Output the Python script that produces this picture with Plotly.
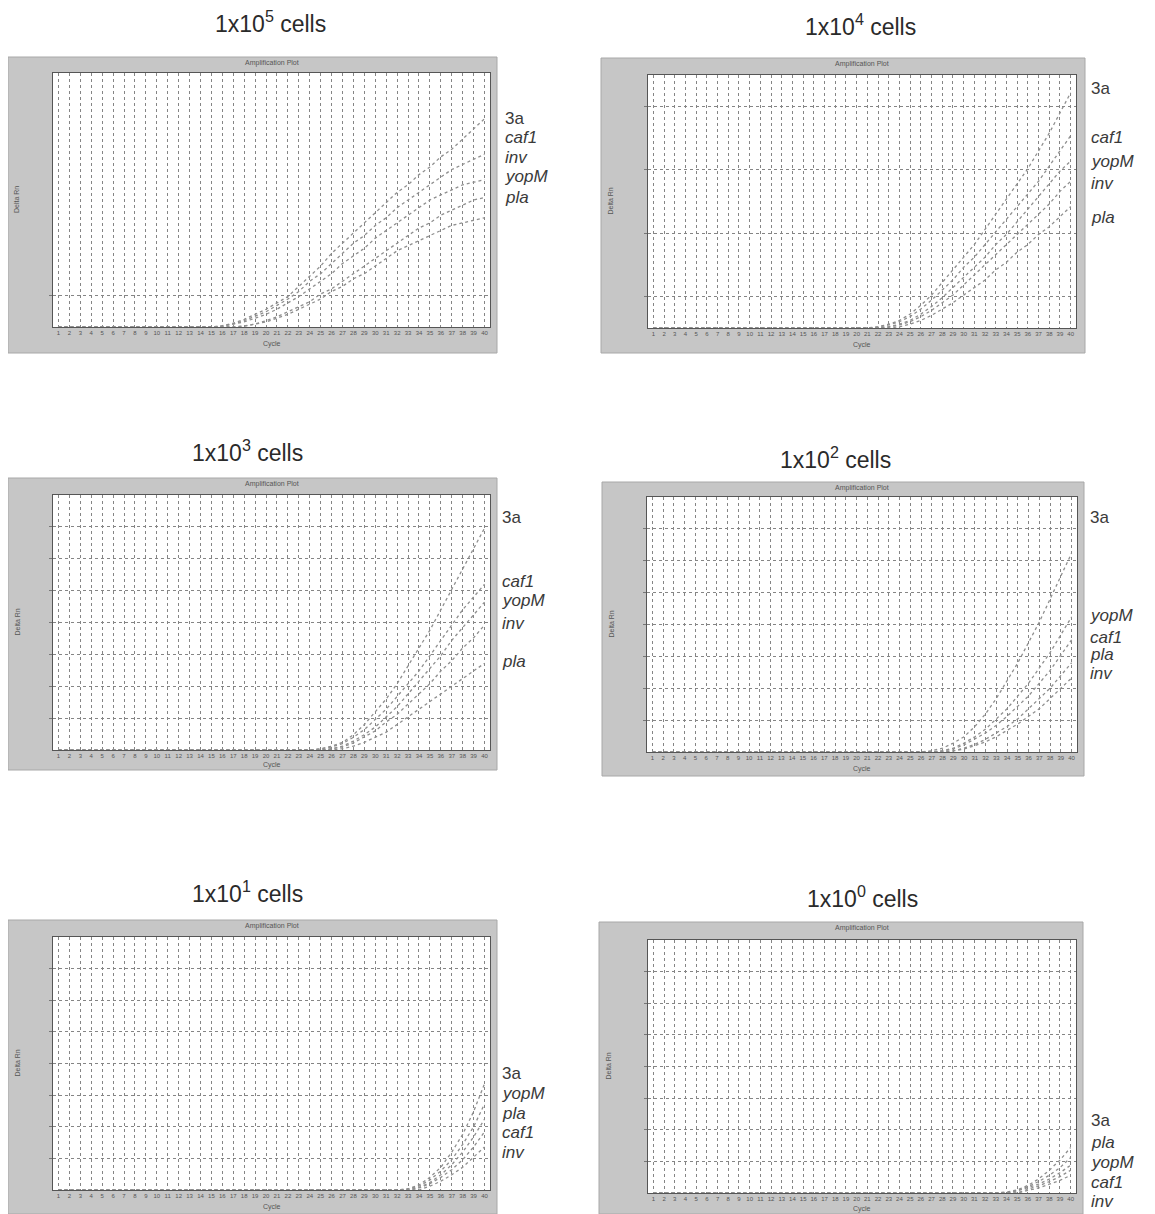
import plotly.graph_objects as go

# page pixels of the reference; the page body has an 8px margin, so the figure is offset by it
W, H = 1155, 1214
OFF = 8
FW, FH = W - OFF, H - OFF

CYCLES = [1, 2, 3, 4, 5, 6, 7, 8, 9, 10,
          11, 12, 13, 14, 15, 16, 17, 18, 19, 20,
          21, 22, 23, 24, 25, 26, 27, 28, 29, 30,
          31, 32, 33, 34, 35, 36, 37, 38, 39, 40]

TITLES = ["1x10<sup>5</sup> cells", "1x10<sup>4</sup> cells", "1x10<sup>3</sup> cells",
          "1x10<sup>2</sup> cells", "1x10<sup>1</sup> cells", "1x10<sup>0</sup> cells"]

# ---- 1x10^5 cells ----
P1_GENES = ["3a", "caf1", "inv", "yopM", "pla"]
P1_3A = [0, 0, 0, 0, 0, 0, 0, 0, 0, 0,
         0, 0, 0, 0, 0, 0.005, 0.015, 0.03, 0.05, 0.07,
         0.095, 0.12, 0.16, 0.20, 0.24, 0.29, 0.33, 0.37, 0.41, 0.45,
         0.49, 0.53, 0.56, 0.60, 0.63, 0.67, 0.70, 0.74, 0.78, 0.82]
P1_CAF1 = [0, 0, 0, 0, 0, 0, 0, 0, 0, 0,
           0, 0, 0, 0, 0, 0.004, 0.012, 0.025, 0.042, 0.06,
           0.085, 0.11, 0.14, 0.18, 0.21, 0.25, 0.29, 0.33, 0.36, 0.40,
           0.43, 0.47, 0.50, 0.53, 0.56, 0.59, 0.62, 0.64, 0.66, 0.68]
P1_INV = [0, 0, 0, 0, 0, 0, 0, 0, 0, 0,
          0, 0, 0, 0, 0, 0.003, 0.01, 0.02, 0.035, 0.05,
          0.07, 0.095, 0.12, 0.15, 0.18, 0.21, 0.25, 0.28, 0.31, 0.35,
          0.38, 0.41, 0.44, 0.47, 0.50, 0.52, 0.54, 0.56, 0.57, 0.58]
P1_YOPM = [0, 0, 0, 0, 0, 0, 0, 0, 0, 0,
           0, 0, 0, 0, 0, 0, 0, 0.004, 0.012, 0.025,
           0.04, 0.06, 0.08, 0.10, 0.13, 0.15, 0.18, 0.21, 0.24, 0.27,
           0.30, 0.33, 0.36, 0.39, 0.41, 0.44, 0.46, 0.48, 0.50, 0.51]
P1_PLA = [0, 0, 0, 0, 0, 0, 0, 0, 0, 0,
          0, 0, 0, 0, 0, 0, 0, 0.003, 0.01, 0.02,
          0.035, 0.05, 0.07, 0.09, 0.11, 0.14, 0.16, 0.19, 0.21, 0.24,
          0.27, 0.30, 0.32, 0.34, 0.36, 0.38, 0.40, 0.41, 0.42, 0.43]

# ---- 1x10^4 cells ----
P2_GENES = ["3a", "caf1", "yopM", "inv", "pla"]
P2_3A = [0, 0, 0, 0, 0, 0, 0, 0, 0, 0,
         0, 0, 0, 0, 0, 0, 0, 0, 0, 0,
         0, 0.005, 0.015, 0.03, 0.055, 0.09, 0.13, 0.18, 0.23, 0.28,
         0.33, 0.39, 0.45, 0.51, 0.57, 0.63, 0.70, 0.77, 0.85, 0.93]
P2_CAF1 = [0, 0, 0, 0, 0, 0, 0, 0, 0, 0,
           0, 0, 0, 0, 0, 0, 0, 0, 0, 0,
           0, 0.004, 0.012, 0.025, 0.045, 0.075, 0.11, 0.15, 0.19, 0.24,
           0.28, 0.33, 0.38, 0.43, 0.48, 0.53, 0.58, 0.64, 0.70, 0.76]
P2_YOPM = [0, 0, 0, 0, 0, 0, 0, 0, 0, 0,
           0, 0, 0, 0, 0, 0, 0, 0, 0, 0,
           0, 0, 0.005, 0.015, 0.03, 0.055, 0.085, 0.12, 0.16, 0.20,
           0.24, 0.28, 0.33, 0.37, 0.42, 0.47, 0.52, 0.57, 0.62, 0.66]
P2_INV = [0, 0, 0, 0, 0, 0, 0, 0, 0, 0,
          0, 0, 0, 0, 0, 0, 0, 0, 0, 0,
          0, 0, 0.004, 0.012, 0.025, 0.045, 0.07, 0.10, 0.13, 0.17,
          0.21, 0.25, 0.29, 0.33, 0.37, 0.41, 0.45, 0.49, 0.54, 0.58]
P2_PLA = [0, 0, 0, 0, 0, 0, 0, 0, 0, 0,
          0, 0, 0, 0, 0, 0, 0, 0, 0, 0,
          0, 0, 0, 0.005, 0.015, 0.03, 0.05, 0.075, 0.10, 0.13,
          0.16, 0.19, 0.23, 0.26, 0.30, 0.33, 0.37, 0.40, 0.44, 0.48]

# ---- 1x10^3 cells ----
P3_GENES = ["3a", "caf1", "yopM", "inv", "pla"]
P3_3A = [0, 0, 0, 0, 0, 0, 0, 0, 0, 0,
         0, 0, 0, 0, 0, 0, 0, 0, 0, 0,
         0, 0, 0, 0, 0.005, 0.015, 0.03, 0.06, 0.10, 0.15,
         0.20, 0.26, 0.33, 0.40, 0.47, 0.55, 0.63, 0.71, 0.79, 0.87]
P3_CAF1 = [0, 0, 0, 0, 0, 0, 0, 0, 0, 0,
           0, 0, 0, 0, 0, 0, 0, 0, 0, 0,
           0, 0, 0, 0, 0.004, 0.012, 0.025, 0.05, 0.08, 0.12,
           0.16, 0.21, 0.26, 0.31, 0.37, 0.43, 0.49, 0.55, 0.60, 0.65]
P3_YOPM = [0, 0, 0, 0, 0, 0, 0, 0, 0, 0,
           0, 0, 0, 0, 0, 0, 0, 0, 0, 0,
           0, 0, 0, 0, 0, 0.005, 0.015, 0.035, 0.06, 0.09,
           0.13, 0.17, 0.22, 0.27, 0.32, 0.37, 0.43, 0.48, 0.53, 0.58]
P3_INV = [0, 0, 0, 0, 0, 0, 0, 0, 0, 0,
          0, 0, 0, 0, 0, 0, 0, 0, 0, 0,
          0, 0, 0, 0, 0, 0.004, 0.012, 0.028, 0.05, 0.075,
          0.11, 0.14, 0.18, 0.22, 0.26, 0.31, 0.35, 0.40, 0.44, 0.49]
P3_PLA = [0, 0, 0, 0, 0, 0, 0, 0, 0, 0,
          0, 0, 0, 0, 0, 0, 0, 0, 0, 0,
          0, 0, 0, 0, 0, 0, 0.005, 0.015, 0.03, 0.05,
          0.07, 0.10, 0.13, 0.16, 0.19, 0.22, 0.25, 0.28, 0.31, 0.34]

# ---- 1x10^2 cells ----
P4_GENES = ["3a", "yopM", "caf1", "pla", "inv"]
P4_3A = [0, 0, 0, 0, 0, 0, 0, 0, 0, 0,
         0, 0, 0, 0, 0, 0, 0, 0, 0, 0,
         0, 0, 0, 0, 0, 0, 0.005, 0.015, 0.035, 0.06,
         0.10, 0.15, 0.21, 0.28, 0.35, 0.43, 0.51, 0.60, 0.69, 0.78]
P4_YOPM = [0, 0, 0, 0, 0, 0, 0, 0, 0, 0,
           0, 0, 0, 0, 0, 0, 0, 0, 0, 0,
           0, 0, 0, 0, 0, 0, 0, 0.005, 0.015, 0.035,
           0.06, 0.09, 0.13, 0.17, 0.22, 0.27, 0.33, 0.39, 0.46, 0.53]
P4_CAF1 = [0, 0, 0, 0, 0, 0, 0, 0, 0, 0,
           0, 0, 0, 0, 0, 0, 0, 0, 0, 0,
           0, 0, 0, 0, 0, 0, 0, 0.004, 0.012, 0.028,
           0.05, 0.075, 0.105, 0.14, 0.18, 0.22, 0.27, 0.32, 0.38, 0.44]
P4_PLA = [0, 0, 0, 0, 0, 0, 0, 0, 0, 0,
          0, 0, 0, 0, 0, 0, 0, 0, 0, 0,
          0, 0, 0, 0, 0, 0, 0, 0, 0.005, 0.015,
          0.03, 0.05, 0.075, 0.10, 0.13, 0.17, 0.21, 0.25, 0.30, 0.35]
P4_INV = [0, 0, 0, 0, 0, 0, 0, 0, 0, 0,
          0, 0, 0, 0, 0, 0, 0, 0, 0, 0,
          0, 0, 0, 0, 0, 0, 0, 0, 0.004, 0.012,
          0.025, 0.04, 0.06, 0.085, 0.11, 0.14, 0.17, 0.21, 0.25, 0.29]

# ---- 1x10^1 cells ----
P5_GENES = ["3a", "yopM", "pla", "caf1", "inv"]
P5_3A = [0, 0, 0, 0, 0, 0, 0, 0, 0, 0,
         0, 0, 0, 0, 0, 0, 0, 0, 0, 0,
         0, 0, 0, 0, 0, 0, 0, 0, 0, 0,
         0, 0, 0.005, 0.02, 0.05, 0.09, 0.15, 0.22, 0.31, 0.42]
P5_YOPM = [0, 0, 0, 0, 0, 0, 0, 0, 0, 0,
           0, 0, 0, 0, 0, 0, 0, 0, 0, 0,
           0, 0, 0, 0, 0, 0, 0, 0, 0, 0,
           0, 0, 0.004, 0.015, 0.04, 0.075, 0.12, 0.18, 0.25, 0.34]
P5_PLA = [0, 0, 0, 0, 0, 0, 0, 0, 0, 0,
          0, 0, 0, 0, 0, 0, 0, 0, 0, 0,
          0, 0, 0, 0, 0, 0, 0, 0, 0, 0,
          0, 0, 0, 0.01, 0.03, 0.06, 0.10, 0.15, 0.21, 0.28]
P5_CAF1 = [0, 0, 0, 0, 0, 0, 0, 0, 0, 0,
           0, 0, 0, 0, 0, 0, 0, 0, 0, 0,
           0, 0, 0, 0, 0, 0, 0, 0, 0, 0,
           0, 0, 0, 0.008, 0.025, 0.05, 0.08, 0.12, 0.17, 0.23]
P5_INV = [0, 0, 0, 0, 0, 0, 0, 0, 0, 0,
          0, 0, 0, 0, 0, 0, 0, 0, 0, 0,
          0, 0, 0, 0, 0, 0, 0, 0, 0, 0,
          0, 0, 0, 0, 0.015, 0.035, 0.06, 0.09, 0.13, 0.17]

# ---- 1x10^0 cells ----
P6_GENES = ["3a", "pla", "yopM", "caf1", "inv"]
P6_3A = [0, 0, 0, 0, 0, 0, 0, 0, 0, 0,
         0, 0, 0, 0, 0, 0, 0, 0, 0, 0,
         0, 0, 0, 0, 0, 0, 0, 0, 0, 0,
         0, 0, 0, 0.004, 0.012, 0.03, 0.055, 0.09, 0.13, 0.18]
P6_PLA = [0, 0, 0, 0, 0, 0, 0, 0, 0, 0,
          0, 0, 0, 0, 0, 0, 0, 0, 0, 0,
          0, 0, 0, 0, 0, 0, 0, 0, 0, 0,
          0, 0, 0, 0, 0.01, 0.025, 0.045, 0.07, 0.10, 0.14]
P6_YOPM = [0, 0, 0, 0, 0, 0, 0, 0, 0, 0,
           0, 0, 0, 0, 0, 0, 0, 0, 0, 0,
           0, 0, 0, 0, 0, 0, 0, 0, 0, 0,
           0, 0, 0, 0, 0.008, 0.02, 0.035, 0.055, 0.08, 0.11]
P6_CAF1 = [0, 0, 0, 0, 0, 0, 0, 0, 0, 0,
           0, 0, 0, 0, 0, 0, 0, 0, 0, 0,
           0, 0, 0, 0, 0, 0, 0, 0, 0, 0,
           0, 0, 0, 0, 0, 0.015, 0.028, 0.045, 0.065, 0.09]
P6_INV = [0, 0, 0, 0, 0, 0, 0, 0, 0, 0,
          0, 0, 0, 0, 0, 0, 0, 0, 0, 0,
          0, 0, 0, 0, 0, 0, 0, 0, 0, 0,
          0, 0, 0, 0, 0, 0.01, 0.02, 0.035, 0.05, 0.07]

# y gridline positions (fraction of the Delta Rn range) per panel
P1_YTICKS = [0.125]
P2_YTICKS = [0.125, 0.375, 0.625, 0.875]
P3_YTICKS = [0.125, 0.25, 0.375, 0.5, 0.625, 0.75, 0.875]
P4_YTICKS = [0.125, 0.25, 0.375, 0.5, 0.625, 0.75, 0.875]
P5_YTICKS = [0.125, 0.25, 0.375, 0.5, 0.625, 0.75, 0.875]
P6_YTICKS = [0.125, 0.25, 0.375, 0.5, 0.625, 0.75, 0.875]

PANELS = [
    (P1_GENES, [P1_3A, P1_CAF1, P1_INV, P1_YOPM, P1_PLA], P1_YTICKS),
    (P2_GENES, [P2_3A, P2_CAF1, P2_YOPM, P2_INV, P2_PLA], P2_YTICKS),
    (P3_GENES, [P3_3A, P3_CAF1, P3_YOPM, P3_INV, P3_PLA], P3_YTICKS),
    (P4_GENES, [P4_3A, P4_YOPM, P4_CAF1, P4_PLA, P4_INV], P4_YTICKS),
    (P5_GENES, [P5_3A, P5_YOPM, P5_PLA, P5_CAF1, P5_INV], P5_YTICKS),
    (P6_GENES, [P6_3A, P6_PLA, P6_YOPM, P6_CAF1, P6_INV], P6_YTICKS),
]

# layout geometry in page pixels: plot area (l, r, t, b), frame (l, r, t, b), title centre, label x, label ys
GEOM = [
    dict(plot=(53, 490, 73, 327), frame=(8, 497, 57, 353), title=(270, 22), lx=503, ly=[118, 137, 157, 177, 197]),
    dict(plot=(648, 1076, 75, 328), frame=(601, 1085, 58, 353), title=(860, 25), lx=1089, ly=[88, 137, 162, 183, 217]),
    dict(plot=(53, 490, 495, 750), frame=(8, 497, 478, 770), title=(248, 451), lx=500, ly=[518, 582, 601, 623, 661]),
    dict(plot=(647, 1077, 497, 752), frame=(602, 1084, 482, 776), title=(836, 458), lx=1088, ly=[517, 615, 637, 655, 673]),
    dict(plot=(53, 490, 937, 1190), frame=(8, 497, 920, 1214), title=(248, 892), lx=500, ly=[1073, 1093, 1113, 1132, 1152]),
    dict(plot=(648, 1076, 940, 1193), frame=(599, 1083, 922, 1214), title=(862, 897), lx=1089, ly=[1120, 1142, 1162, 1182, 1201]),
]

FONT = "Liberation Sans, Arial, sans-serif"


def px(x):
    return (x - OFF) / FW


def py(y):
    return 1 - (y - OFF) / FH


fig = go.Figure()
shapes = []
annotations = []
layout_axes = {}

for i, ((genes, series, yticks), g) in enumerate(zip(PANELS, GEOM), start=1):
    xa = "x" if i == 1 else f"x{i}"
    ya = "y" if i == 1 else f"y{i}"
    for vals in series:
        fig.add_trace(go.Scatter(
            x=CYCLES, y=vals, mode="lines", xaxis=xa, yaxis=ya, showlegend=False,
            line=dict(color="#8f8f8f", width=1.3, dash="dot"), hoverinfo="skip"))
    l, r, t, b = g["plot"]
    fl, fr, ft, fb = g["frame"]
    shapes.append(dict(type="rect", xref="paper", yref="paper", layer="below",
                       x0=px(fl), x1=px(fr), y0=max(py(fb), 0), y1=py(ft),
                       fillcolor="#c6c6c6", line=dict(color="#a8a8a8", width=1)))
    shapes.append(dict(type="rect", xref="paper", yref="paper", layer="below",
                       x0=px(l), x1=px(r), y0=py(b), y1=py(t),
                       fillcolor="white", line=dict(width=0)))
    xname = "xaxis" if i == 1 else f"xaxis{i}"
    yname = "yaxis" if i == 1 else f"yaxis{i}"
    layout_axes[xname] = dict(
        domain=[px(l), px(r)], anchor=ya, range=[0.5, 40.5],
        tickmode="array", tickvals=CYCLES, ticktext=[str(c) for c in CYCLES],
        tickfont=dict(size=6, color="#555", family=FONT), tickangle=0,
        showgrid=True, gridcolor="#858585", gridwidth=1, griddash="dot",
        showline=True, linecolor="#555", linewidth=1, mirror=True,
        zeroline=False, ticks="", fixedrange=True)
    layout_axes[yname] = dict(
        domain=[py(b), py(t)], anchor=xa, range=[0, 1],
        tickmode="array", tickvals=yticks, showticklabels=False,
        showgrid=True, gridcolor="#858585", gridwidth=1, griddash="dot",
        showline=True, linecolor="#555", linewidth=1, mirror=True,
        zeroline=False, ticks="outside", ticklen=3, tickcolor="#777", fixedrange=True)
    # panel title
    tx, ty = g["title"]
    annotations.append(dict(xref="paper", yref="paper", x=px(tx), y=py(ty),
                            text=TITLES[i - 1], showarrow=False, xanchor="center", yanchor="middle",
                            font=dict(size=23, color="#2a2a2a", family=FONT)))
    # gene labels
    for gname, ly in zip(genes, g["ly"]):
        txt = gname if gname == "3a" else f"<i>{gname}</i>"
        annotations.append(dict(xref="paper", yref="paper", x=px(g["lx"]), y=py(ly),
                                text=txt, showarrow=False, xanchor="left", yanchor="middle",
                                font=dict(size=17, color="#3a3a3a", family=FONT)))
    # software plot captions (tiny)
    annotations.append(dict(xref="paper", yref="paper", x=px((l + r) / 2), y=py(ft + 6),
                            text="Amplification Plot", showarrow=False, xanchor="center", yanchor="middle",
                            font=dict(size=7, color="#555", family=FONT)))
    annotations.append(dict(xref="paper", yref="paper", x=px((l + r) / 2), y=py(min(fb - 5, b + 17)),
                            text="Cycle", showarrow=False, xanchor="center", yanchor="middle",
                            font=dict(size=7, color="#555", family=FONT)))
    annotations.append(dict(xref="paper", yref="paper", x=px(fl + 9), y=py((t + b) / 2),
                            text="Delta Rn", showarrow=False, xanchor="center", yanchor="middle",
                            textangle=-90, font=dict(size=7, color="#555", family=FONT)))

fig.update_layout(
    width=FW, height=FH, margin=dict(l=0, r=0, t=0, b=0),
    paper_bgcolor="white", plot_bgcolor="rgba(0,0,0,0)",
    shapes=shapes, annotations=annotations, showlegend=False,
    **layout_axes)

fig.write_html("out.html")
